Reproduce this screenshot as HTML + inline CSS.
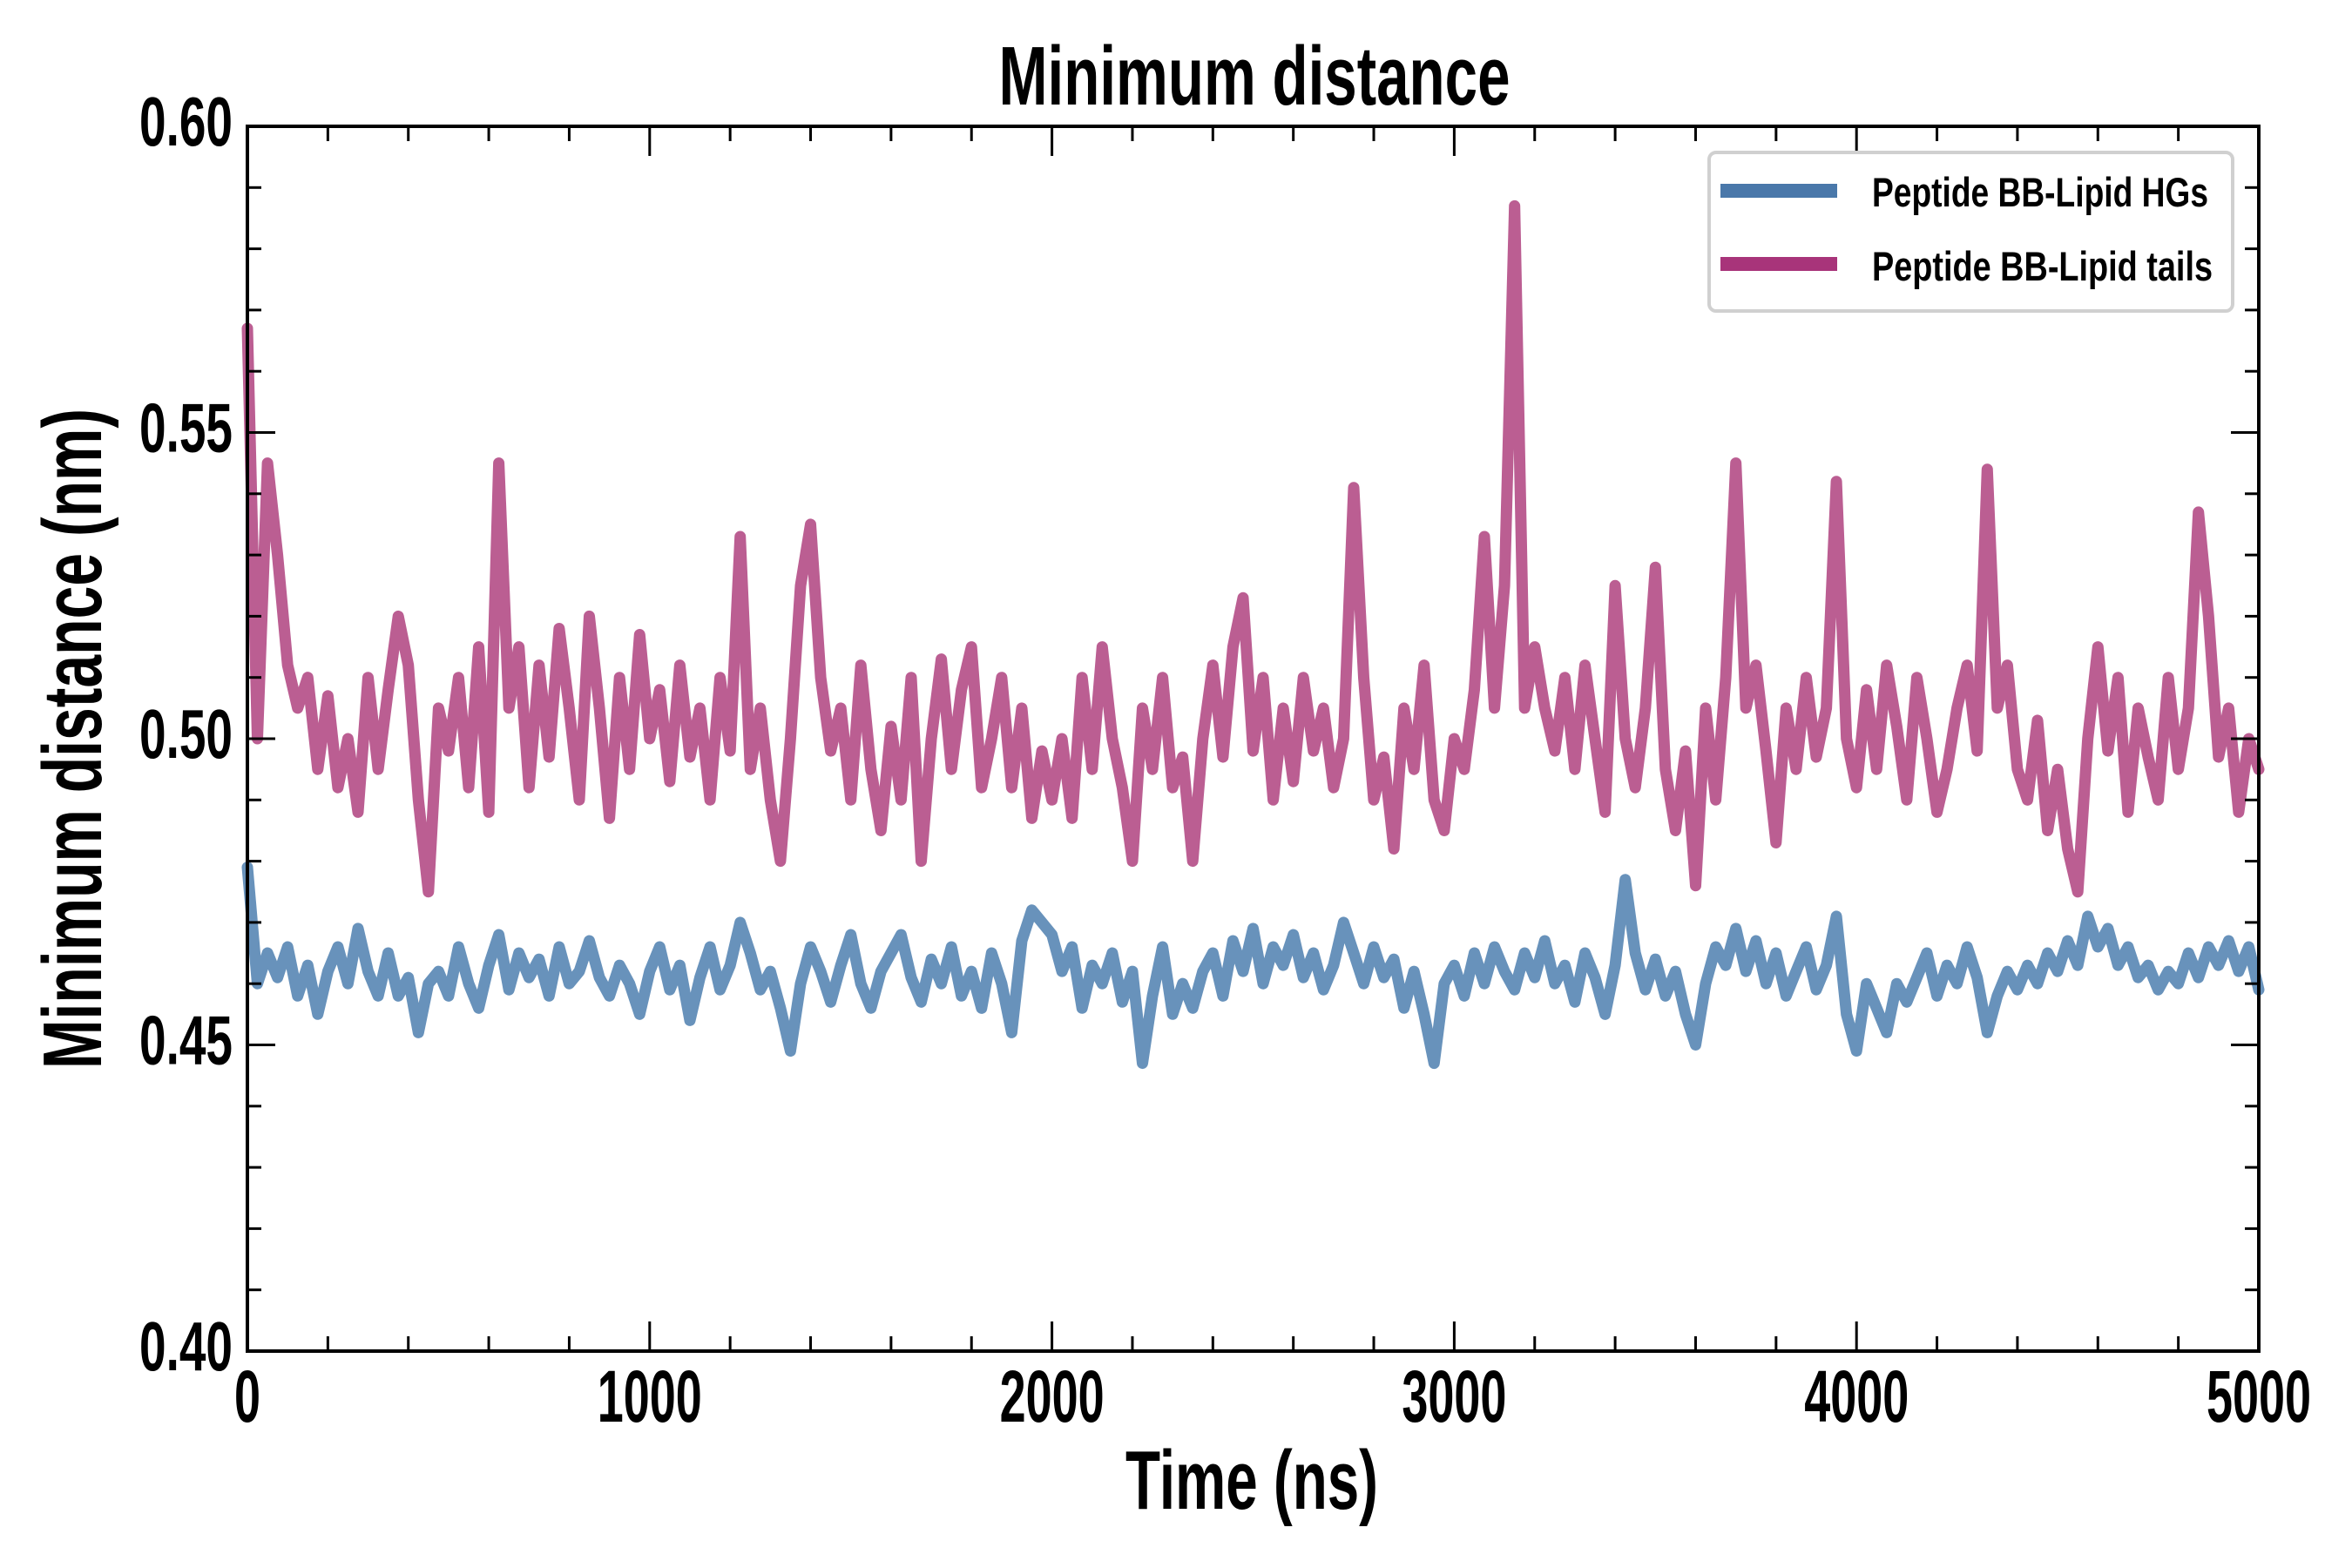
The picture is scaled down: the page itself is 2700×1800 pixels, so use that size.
<!DOCTYPE html>
<html><head><meta charset="utf-8"><style>html,body{margin:0;padding:0;background:#fff}svg{display:block}text{font-family:"Liberation Sans",sans-serif;font-weight:bold;fill:#000}</style></head>
<body>
<svg id="chart" width="2700" height="1800" viewBox="0 0 2700 1800" xmlns="http://www.w3.org/2000/svg">
<text x="1440" y="120" font-size="96" text-anchor="middle" textLength="587" lengthAdjust="spacingAndGlyphs">Minimum distance</text>
<text x="1437" y="1732" font-size="96" text-anchor="middle" textLength="290" lengthAdjust="spacingAndGlyphs">Time (ns)</text>
<text transform="translate(116,848) rotate(-90)" x="0" y="0" font-size="96" text-anchor="middle" textLength="758" lengthAdjust="spacingAndGlyphs">Minimum distance (nm)</text>
<g id="series"></g>
<g id="ticks"></g>
<rect x="284" y="145" width="2309" height="1406" fill="none" stroke="#000" stroke-width="4"/>
<g>
<rect x="1962" y="175" width="601" height="182" rx="8" fill="#fff" stroke="#d0d0d0" stroke-width="4"/>
<line x1="1975" y1="219" x2="2109" y2="219" stroke="#4a78aa" stroke-width="16"/>
<text x="2149" y="237" font-size="47" textLength="386" lengthAdjust="spacingAndGlyphs">Peptide BB-Lipid HGs</text>
<line x1="1975" y1="303" x2="2109" y2="303" stroke="#a8347a" stroke-width="16"/>
<text x="2149" y="322" font-size="47" textLength="391" lengthAdjust="spacingAndGlyphs">Peptide BB-Lipid tails</text>
</g>
</svg>
<script>
const tailsValues = [.567,.500,.545,.530,.512,.505,.510,.495,.507,.492,.500,.488,.510,.495,.508,.520,.512,.490,.475,.505,.498,.510,.492,.515,.488,.545,.505,.515,.492,.512,.497,.518,.505,.490,.520,.505,.487,.510,.495,.517,.500,.508,.493,.512,.497,.505,.490,.510,.498,.533,.495,.505,.490,.480,.500,.525,.535,.510,.498,.505,.490,.512,.495,.485,.502,.490,.510,.480,.500,.513,.495,.508,.515,.492,.500,.510,.492,.505,.487,.498,.490,.500,.487,.510,.495,.515,.500,.492,.480,.505,.495,.510,.492,.497,.480,.500,.512,.497,.515,.523,.498,.510,.490,.505,.493,.510,.498,.505,.492,.500,.541,.510,.490,.497,.482,.505,.495,.512,.490,.485,.500,.495,.508,.533,.505,.525,.587,.505,.515,.505,.498,.510,.495,.512,.500,.488,.525,.500,.492,.505,.528,.495,.485,.498,.476,.505,.490,.510,.545,.505,.512,.498,.483,.505,.495,.510,.497,.505,.542,.500,.492,.508,.495,.512,.502,.490,.510,.500,.488,.495,.505,.512,.498,.544,.505,.512,.495,.490,.503,.485,.495,.482,.475,.500,.515,.498,.510,.488,.505,.497,.490,.510,.495,.505,.537,.520,.497,.505,.488,.500,.495];
const hgsValues = [.479,.460,.465,.461,.466,.458,.463,.455,.462,.466,.460,.469,.462,.458,.465,.458,.461,.452,.460,.462,.458,.466,.460,.456,.463,.468,.459,.465,.461,.464,.458,.466,.460,.462,.467,.461,.458,.463,.460,.455,.462,.466,.459,.463,.454,.461,.466,.459,.463,.470,.465,.459,.462,.456,.449,.460,.466,.462,.457,.463,.468,.460,.456,.462,.465,.468,.461,.457,.464,.460,.466,.458,.462,.456,.465,.460,.452,.467,.472,.470,.468,.462,.466,.456,.463,.460,.465,.457,.462,.447,.458,.466,.455,.460,.456,.462,.465,.458,.467,.462,.469,.460,.466,.463,.468,.461,.465,.459,.463,.470,.465,.460,.466,.461,.464,.456,.462,.455,.447,.460,.463,.458,.465,.460,.466,.462,.459,.465,.461,.467,.460,.463,.457,.465,.461,.455,.463,.477,.465,.459,.464,.458,.462,.455,.450,.460,.466,.463,.469,.462,.467,.460,.465,.458,.462,.466,.459,.463,.471,.455,.449,.460,.456,.452,.460,.457,.461,.465,.458,.463,.460,.466,.461,.452,.458,.462,.459,.463,.460,.465,.462,.467,.463,.471,.466,.469,.463,.466,.461,.463,.459,.462,.460,.465,.461,.466,.463,.467,.462,.466,.459];
const timeStep = 25;
const xTickLabels = ["0","1000","2000","3000","4000","5000"];
const yTickLabels = ["0.40","0.45","0.50","0.55","0.60"];

const NS = "http://www.w3.org/2000/svg";
const X0 = 284, X1 = 2593, Y0 = 1551, Y1 = 145;
function xs(t){ return X0 + (t/5000)*(X1-X0); }
function ys(v){ return Y0 - ((v-0.40)/0.20)*(Y0-Y1); }

const gS = document.getElementById('series');
function drawSeries(vals, color, name){
  const p = document.createElementNS(NS,'path');
  let d = '';
  vals.forEach((v,i)=>{ d += (i?'L':'M') + xs(i*timeStep).toFixed(1) + ',' + ys(v).toFixed(1); });
  p.setAttribute('d', d);
  p.setAttribute('fill','none');
  p.setAttribute('stroke', color);
  p.setAttribute('stroke-width','13');
  p.setAttribute('stroke-linejoin','round');
  p.setAttribute('stroke-linecap','round');
  
  
  gS.appendChild(p);
}
drawSeries(hgsValues, '#6892bb', 'series-lipid-hgs');
drawSeries(tailsValues, '#bb5e92', 'series-lipid-tails');

const gT = document.getElementById('ticks');
function ln(x1,y1,x2,y2,w,name){
  const l = document.createElementNS(NS,'line');
  l.setAttribute('x1',x1); l.setAttribute('y1',y1); l.setAttribute('x2',x2); l.setAttribute('y2',y2);
  l.setAttribute('stroke','#000'); l.setAttribute('stroke-width',w);
  
  
  gT.appendChild(l);
}
for(let t=0;t<=5000;t+=200){
  const major = t%1000===0, L = major?34:17, x = xs(t);
  ln(x,Y0,x,Y0-L,3,'x-tick');
  ln(x,Y1,x,Y1+L,3,'x-tick-top');
}
for(let k=0;k<=20;k++){
  const v = 0.40 + k*0.01, major = k%5===0, L = major?32:16, y = ys(v);
  ln(X0,y,X0+L,y,3,'y-tick');
  ln(X1,y,X1-L,y,3,'y-tick-right');
}
xTickLabels.forEach((s)=>{
  const t = document.createElementNS(NS,'text');
  t.setAttribute('x', xs(parseFloat(s)));
  t.setAttribute('y', 1632);
  t.setAttribute('font-size','84');
  t.setAttribute('text-anchor','middle');
  t.setAttribute('textLength', String(s.length*30));
  t.setAttribute('lengthAdjust','spacingAndGlyphs');
  t.textContent = s;
  
  
  gT.appendChild(t);
});
yTickLabels.forEach((s)=>{
  const t = document.createElementNS(NS,'text');
  t.setAttribute('x', 267);
  t.setAttribute('y', ys(parseFloat(s)) + 22);
  t.setAttribute('font-size','80');
  t.setAttribute('text-anchor','end');
  t.setAttribute('textLength','107');
  t.setAttribute('lengthAdjust','spacingAndGlyphs');
  t.textContent = s;
  
  
  gT.appendChild(t);
});
</script>
</body></html>
